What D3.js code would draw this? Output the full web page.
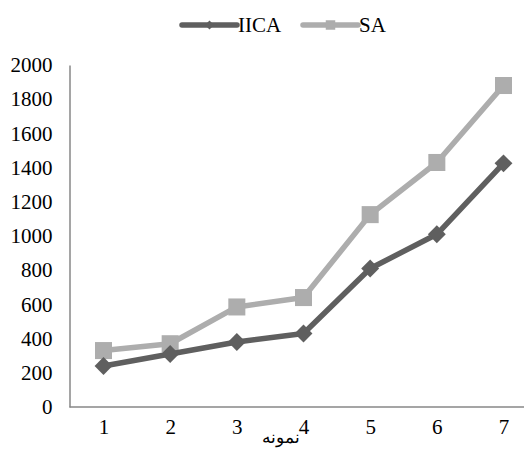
<!DOCTYPE html>
<html><head><meta charset="utf-8">
<script src="https://cdn.jsdelivr.net/npm/d3@7/dist/d3.min.js"></script>
<style>body{margin:0;background:#fff}svg{display:block}</style>
</head><body>
<script>
const categories = ["1","2","3","4","5","6","7"];
const iicaValues = [240, 310, 380, 430, 810, 1010, 1425];
const saValues = [330, 370, 585, 640, 1125, 1430, 1880];
const yTicks = [0,200,400,600,800,1000,1200,1400,1600,1800,2000];
const seriesNames = ["IICA","SA"];
const xTitle = "نمونه";

const W = 524, H = 458;
const svg = d3.select("body").append("svg").attr("width", W).attr("height", H);
const x = d3.scalePoint().domain(categories).range([103.5, 503.5]);
const y = d3.scaleLinear().domain([0, 2000]).range([407, 65]);
const font = "'Liberation Serif','Times New Roman',serif";

// axes
const yAxis = svg.append("g").attr("transform","translate(69.5,0)")
  .call(d3.axisLeft(y).tickValues(yTicks).tickFormat(d3.format("d")).tickSize(0).tickPadding(17));
yAxis.select(".domain").attr("stroke","#878787").attr("stroke-width",1.5);
yAxis.selectAll("text").attr("font-family",font).attr("font-size",21).attr("fill","#000");

const xAxis = svg.append("g").attr("transform","translate(0,407)")
  .call(d3.axisBottom(x).tickSize(0).tickPadding(12));
xAxis.select(".domain").remove();
svg.append("line").attr("x1",69.5).attr("x2",W).attr("y1",407).attr("y2",407)
  .attr("stroke","#878787").attr("stroke-width",1.5);
xAxis.selectAll("text").attr("font-family",font).attr("font-size",21).attr("fill","#000");

svg.append("text").attr("x",281).attr("y",443).attr("text-anchor","middle")
  .attr("font-family","'DejaVu Serif','Liberation Serif',serif").attr("font-size",17)
  .attr("direction","rtl").text(xTitle);

const line = d3.line().x((d,i)=>x(categories[i])).y(d=>y(d));
const colors = {IICA:"#5f5f5f", SA:"#adadad"};

function drawSeries(vals, color, rot, size){
  svg.append("path").datum(vals).attr("d",line).attr("fill","none")
    .attr("stroke",color).attr("stroke-width",5.5).attr("stroke-linejoin","round");
  svg.append("g").selectAll("path").data(vals).join("path")
    .attr("transform",(d,i)=>`translate(${x(categories[i])},${y(d)}) rotate(${rot})`)
    .attr("d", d3.symbol().type(d3.symbolSquare).size(size)())
    .attr("fill",color);
}
drawSeries(saValues, colors.SA, 0, 290);
drawSeries(iicaValues, colors.IICA, 45, 160);

// legend
const leg = [
  {name: seriesNames[0], color: colors.IICA, rot: 45, size: 40, x0: 182},
  {name: seriesNames[1], color: colors.SA, rot: 0, size: 90, x0: 303}
];
leg.forEach(l=>{
  const g = svg.append("g");
  g.append("line").attr("x1",l.x0).attr("x2",l.x0+55).attr("y1",25).attr("y2",25)
    .attr("stroke",l.color).attr("stroke-width",5.5).attr("stroke-linecap","round");
  g.append("path").attr("transform",`translate(${l.x0+27.5},25) rotate(${l.rot})`)
    .attr("d",d3.symbol().type(d3.symbolSquare).size(l.size)()).attr("fill",l.color);
  g.append("text").attr("x",l.x0+56).attr("y",32).attr("font-family",font)
    .attr("font-size",21).attr("fill","#000").text(l.name);
});
</script>
</body></html>
